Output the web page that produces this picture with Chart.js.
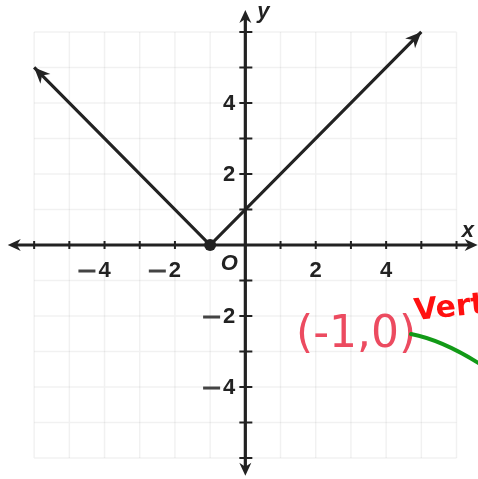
<!DOCTYPE html>
<html>
<head>
<meta charset="utf-8">
<script src="https://cdn.jsdelivr.net/npm/chart.js@4.4.1/dist/chart.umd.min.js"></script>
<style>
  html, body { margin: 0; padding: 0; background: #fff; }
  #wrap { width: 478px; height: 479px; }
</style>
</head>
<body>
<div id="wrap"><canvas id="graph"></canvas></div>
<script>
  "use strict";

  // y = |x + 1|, drawn from x = -6 to x = 5
  var lineX = [-6, -1, 5];
  var lineY = [5, 0, 6];
  var vertex = [-1, 0];

  // labelled ticks on each axis
  var xTickLabels = [-4, -2, 2, 4];
  var yTickLabels = [4, 2, -2, -4];

  // grid covers -6..6 in both directions
  var gridMin = -6;
  var gridMax = 6;

  var ink = "#222";

  // Draw the grid, the axes with arrows, tick marks and labels
  var axesPlugin = {
    id: "axes",
    beforeDatasetsDraw: function (chart) {
      var ctx = chart.ctx;
      var xs = chart.scales.x;
      var ys = chart.scales.y;
      var x0 = xs.getPixelForValue(0);
      var y0 = ys.getPixelForValue(0);

      ctx.save();

      // faint grid
      ctx.strokeStyle = "rgba(0,0,0,0.055)";
      ctx.lineWidth = 1.5;
      for (var g = gridMin; g <= gridMax; g++) {
        var gx = xs.getPixelForValue(g);
        var gy = ys.getPixelForValue(g);
        ctx.beginPath();
        ctx.moveTo(gx, ys.getPixelForValue(gridMin));
        ctx.lineTo(gx, ys.getPixelForValue(gridMax));
        ctx.moveTo(xs.getPixelForValue(gridMin), gy);
        ctx.lineTo(xs.getPixelForValue(gridMax), gy);
        ctx.stroke();
      }

      // axes
      ctx.strokeStyle = ink;
      ctx.fillStyle = ink;
      ctx.lineWidth = 3.2;
      var xl = xs.getPixelForValue(-6.75), xr = xs.getPixelForValue(6.6);
      var yt = ys.getPixelForValue(6.62), yb = ys.getPixelForValue(-6.5);
      ctx.beginPath();
      ctx.moveTo(xl + 8, y0); ctx.lineTo(xr - 8, y0);
      ctx.moveTo(x0, yt + 8); ctx.lineTo(x0, yb - 8);
      ctx.stroke();
      arrowHead(ctx, xl + 10, y0, xl, y0, 13, 6);
      arrowHead(ctx, xr - 10, y0, xr, y0, 13, 6);
      arrowHead(ctx, x0, yt + 10, x0, yt, 13, 6);
      arrowHead(ctx, x0, yb - 10, x0, yb, 13, 6);

      // tick marks
      ctx.lineWidth = 2;
      for (var t = gridMin; t <= gridMax; t++) {
        if (t === 0) continue;
        var tx = xs.getPixelForValue(t);
        var ty = ys.getPixelForValue(t);
        ctx.beginPath();
        ctx.moveTo(tx, y0 - 4); ctx.lineTo(tx, y0 + 4);
        ctx.moveTo(x0 - 6, ty); ctx.lineTo(x0 + 7, ty);
        ctx.stroke();
      }

      // tick labels: digit on the tick, long minus hanging to its left
      ctx.font = "bold 22px 'Liberation Sans', Arial, sans-serif";
      ctx.textBaseline = "middle";
      ctx.textAlign = "center";
      xTickLabels.forEach(function (v) {
        var px = xs.getPixelForValue(v);
        var w = ctx.measureText(String(Math.abs(v))).width;
        ctx.fillText(String(Math.abs(v)), px, y0 + 26);
        if (v < 0) minus(ctx, px - w / 2 - 3, y0 + 26);
      });
      ctx.textAlign = "right";
      yTickLabels.forEach(function (v) {
        var py = ys.getPixelForValue(v);
        var right = x0 - 10;
        var w = ctx.measureText(String(Math.abs(v))).width;
        ctx.fillText(String(Math.abs(v)), right, py + 1);
        if (v < 0) minus(ctx, right - w - 3, py + 1);
      });

      // axis names and origin
      ctx.font = "bold italic 22px 'Liberation Sans', Arial, sans-serif";
      ctx.textAlign = "left";
      ctx.fillText("y", x0 + 12, ys.getPixelForValue(6.55));
      ctx.fillText("x", xs.getPixelForValue(6.15), y0 - 14);
      ctx.textAlign = "center";
      ctx.fillText("O", x0 - 16, y0 + 19);

      ctx.restore();
    },
    afterDatasetsDraw: function (chart) {
      var ctx = chart.ctx;
      var meta = chart.getDatasetMeta(0);
      var pts = meta.data;
      ctx.save();
      ctx.fillStyle = ink;
      // arrows at both ends of the V
      var a = pts[0], b = pts[1];
      arrowHead(ctx, b.x, b.y, a.x, a.y, 16, 7);
      var c = pts[pts.length - 2], d = pts[pts.length - 1];
      arrowHead(ctx, c.x, c.y, d.x, d.y, 16, 7);

      // handwritten note about the vertex
      ctx.fillStyle = "#ec4b60";
      ctx.font = "44px 'DejaVu Sans', sans-serif";
      ctx.textBaseline = "alphabetic";
      ctx.textAlign = "left";
      ctx.letterSpacing = "0px";
      ctx.fillText("(" + vertex[0] + "," + vertex[1] + ")", 296, 347);

      ctx.save();
      ctx.translate(415, 320);
      ctx.rotate(-0.1);
      ctx.fillStyle = "#ff1010";
      ctx.font = "bold 30px 'DejaVu Sans', sans-serif";
      ctx.fillText("Vertex", 0, 0);
      ctx.restore();

      ctx.strokeStyle = "#129a17";
      ctx.lineWidth = 4;
      ctx.lineCap = "round";
      ctx.beginPath();
      ctx.moveTo(411, 334);
      ctx.quadraticCurveTo(442, 340, 480, 364);
      ctx.stroke();
      ctx.restore();
    }
  };

  function arrowHead(ctx, fx, fy, tx, ty, len, half) {
    var ang = Math.atan2(ty - fy, tx - fx);
    ctx.beginPath();
    ctx.moveTo(tx, ty);
    ctx.lineTo(tx - len * Math.cos(ang) + half * Math.sin(ang),
               ty - len * Math.sin(ang) - half * Math.cos(ang));
    ctx.lineTo(tx - len * 0.7 * Math.cos(ang), ty - len * 0.7 * Math.sin(ang));
    ctx.lineTo(tx - len * Math.cos(ang) - half * Math.sin(ang),
               ty - len * Math.sin(ang) + half * Math.cos(ang));
    ctx.closePath();
    ctx.fill();
  }

  function minus(ctx, right, y) {
    ctx.save();
    ctx.fillStyle = "#444";
    ctx.fillRect(right - 17, y - 1.5, 17, 3);
    ctx.restore();
  }

  var points = lineX.map(function (x, i) {
    return { x: x, y: lineY[i] };
  });

  new Chart(document.getElementById("graph"), {
    type: "line",
    data: {
      datasets: [{
        data: points,
        borderColor: ink,
        borderWidth: 3.2,
        tension: 0,
        pointRadius: points.map(function (p) {
          return p.x === vertex[0] && p.y === vertex[1] ? 6 : 0;
        }),
        pointBackgroundColor: ink,
        pointBorderWidth: 0,
      }],
    },
    options: {
      responsive: true,
      maintainAspectRatio: false,
      animation: false,
      layout: { padding: 0 },
      plugins: { legend: { display: false }, tooltip: { enabled: false } },
      scales: {
        x: { type: "linear", min: -6.97, max: 6.61, display: false },
        y: { type: "linear", min: -6.59, max: 6.9, display: false },
      },
    },
    plugins: [axesPlugin],
  });
</script>
</body>
</html>
